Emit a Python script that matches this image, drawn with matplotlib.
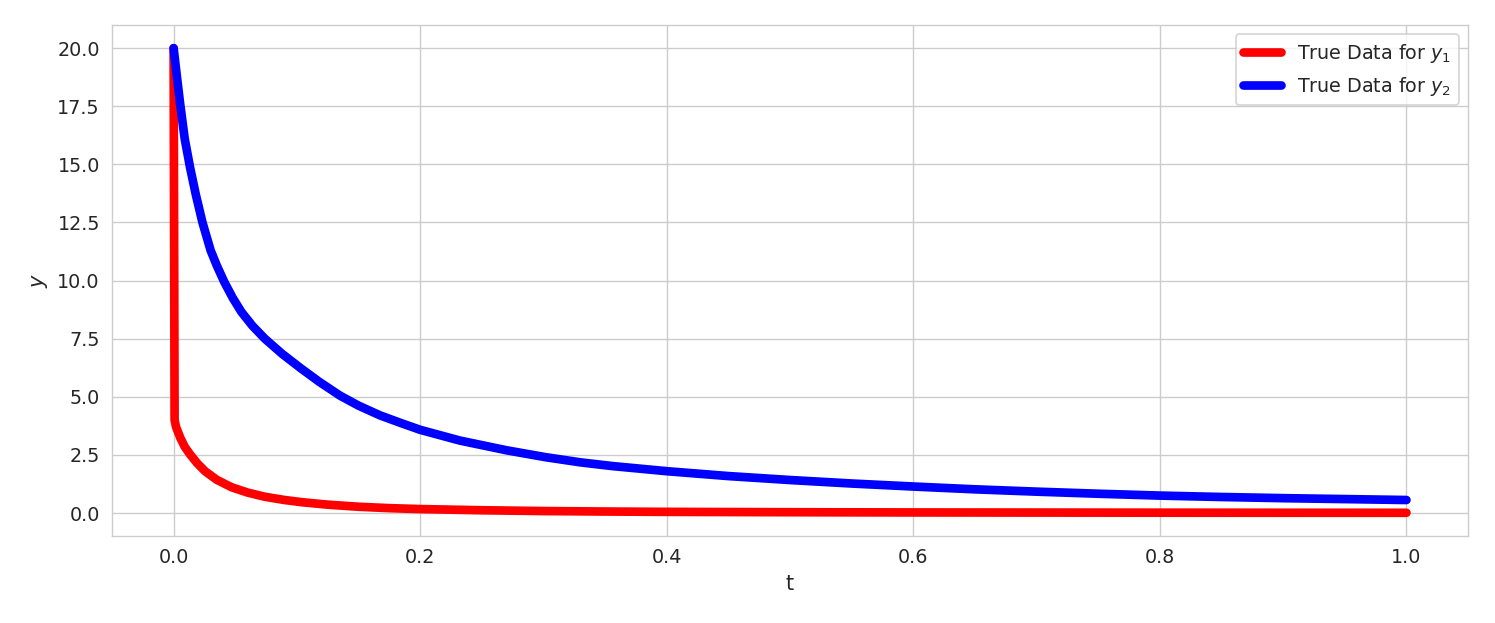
import matplotlib
matplotlib.use("Agg")
import matplotlib.pyplot as plt
import seaborn as sns

# values
t_y1 = [0.0, 0.0008, 0.002, 0.0053, 0.009, 0.0134, 0.019, 0.0255, 0.035, 0.047, 0.06,
        0.074, 0.09, 0.105, 0.125, 0.15, 0.175, 0.2, 0.25, 0.3, 0.35, 0.4, 0.5,
        0.6, 0.7, 0.8, 0.9, 1.0]
y1 = [20.0, 4.0, 3.7, 3.25, 2.85, 2.52, 2.15, 1.80, 1.43, 1.11, 0.88,
      0.70, 0.56, 0.46, 0.36, 0.27, 0.21, 0.17, 0.12, 0.085, 0.065, 0.05, 0.035,
      0.025, 0.02, 0.015, 0.012, 0.01]

t_y2 = [0.0, 0.0025, 0.0053, 0.009, 0.0134, 0.018, 0.0234, 0.03, 0.035, 0.041,
        0.048, 0.055, 0.064, 0.074, 0.088, 0.1026, 0.118, 0.135, 0.15, 0.1675,
        0.185, 0.2, 0.232, 0.27, 0.302, 0.33, 0.356, 0.4, 0.45, 0.5, 0.55, 0.6,
        0.65, 0.7, 0.75, 0.8, 0.85, 0.9, 0.95, 1.0]
y2 = [20.0, 18.85, 17.6, 16.1, 14.85, 13.7, 12.5, 11.3, 10.65, 9.95,
      9.25, 8.65, 8.05, 7.5, 6.85, 6.25, 5.65, 5.05, 4.62, 4.2,
      3.86, 3.58, 3.12, 2.70, 2.40, 2.18, 2.02, 1.80, 1.59, 1.42, 1.27, 1.14,
      1.02, 0.92, 0.83, 0.75, 0.69, 0.64, 0.60, 0.56]

sns.set_style("whitegrid")

fig = plt.figure(figsize=(1495 / 125, 623 / 125), dpi=125)
ax = fig.add_axes([0.0749, 0.1396, 0.9071, 0.8204])

ax.plot(t_y1, y1, color="red", lw=5, solid_capstyle="round",
        solid_joinstyle="round", label="True Data for $y_1$")
ax.plot(t_y2, y2, color="blue", lw=5, solid_capstyle="round",
        solid_joinstyle="round", label="True Data for $y_2$")

ax.set_xlabel("t", fontsize=12, color=".15")
ax.set_ylabel("$y$", fontsize=12, color=".15")
ax.tick_params(labelsize=11, colors=".15")
ax.legend(loc="upper right", fontsize=11)

fig.savefig("out.png", dpi=125)
